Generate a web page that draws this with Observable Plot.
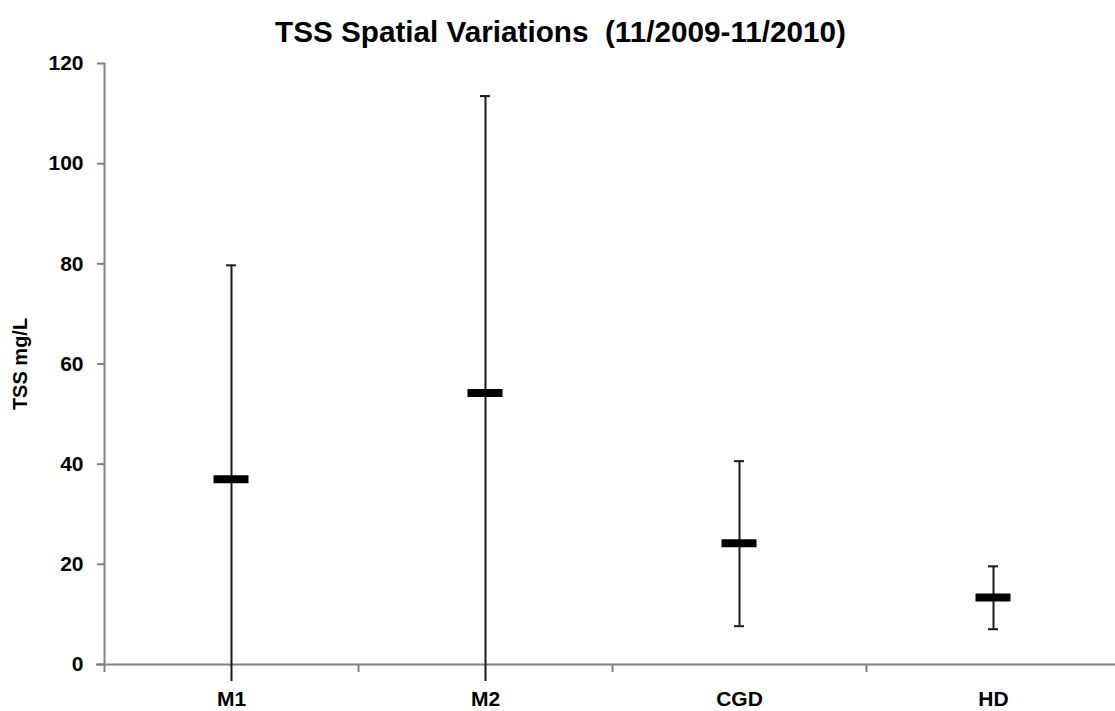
<!DOCTYPE html>
<html>
<head>
<meta charset="utf-8">
<script src="https://cdn.jsdelivr.net/npm/d3@7"></script>
<script src="https://cdn.jsdelivr.net/npm/@observablehq/plot@0.6"></script>
<style>
  html, body { margin: 0; padding: 0; background: #fff; }
  #chart svg { display: block; overflow: hidden; }
</style>
</head>
<body>
<div id="chart"></div>
<script>
// Data
const sites = ["M1", "M2", "CGD", "HD"];
const means = [37.0, 54.2, 24.2, 13.4];
const highs = [79.7, 113.5, 40.6, 19.6];
const lows  = [-3.4, -3.4, 7.65, 7.05];
const yTicks = [0, 20, 40, 60, 80, 100, 120];
const titleText = "TSS Spatial Variations  (11/2009-11/2010)";
const yLabel = "TSS mg/L";

const rows = sites.map((s, i) => ({site: s, mean: means[i], high: highs[i], low: lows[i]}));
const capped = rows.flatMap(d => [
  {site: d.site, v: d.high},
  ...(d.low >= 0 ? [{site: d.site, v: d.low}] : [])
]);

const FONT = "'Liberation Sans', Arial, Helvetica, sans-serif";
const AXIS = "#808080";
const INK = "#1a1a1a";

const chart = Plot.plot({
  width: 1115,
  height: 711,
  marginTop: 63,
  marginBottom: 47,
  marginLeft: 104,
  marginRight: 0,
  style: {fontFamily: FONT, fontSize: "21px", fontWeight: "bold", background: "#fff", color: "#000"},
  x: {type: "band", domain: sites, range: [104, 1120], padding: 0},
  y: {domain: [0, 120]},
  marks: [
    Plot.frame({anchor: "left", stroke: AXIS, strokeWidth: 2}),
    Plot.axisY({ticks: yTicks, tickSize: 7, tickPadding: 14, stroke: AXIS, strokeWidth: 2,
      fill: "#000", fontSize: 21, fontWeight: "bold", label: null}),
    Plot.ruleY([0], {stroke: AXIS, strokeWidth: 2, insetLeft: -8}),
    Plot.axisX({ticks: sites, tickSize: 8, text: null, dx: -127, stroke: AXIS, strokeWidth: 2, label: null}),
    Plot.axisX({ticks: sites, tickSize: 0, tickPadding: 27, fill: "#000",
      fontSize: 21, fontWeight: "bold", label: null}),
    Plot.ruleX(rows, {x: "site", y1: "low", y2: "high", stroke: INK, strokeWidth: 2}),
    Plot.tickY(capped, {x: "site", y: "v", stroke: INK, strokeWidth: 2, insetLeft: 122, insetRight: 122}),
    Plot.tickY(rows, {x: "site", y: "mean", stroke: "#000", strokeWidth: 8, insetLeft: 109.5, insetRight: 109.5}),
    Plot.text([yLabel], {frameAnchor: "left", dx: -84, rotate: -90, fontSize: 20,
      fontWeight: "bold", fill: "#000", textAnchor: "middle", lineAnchor: "middle", text: d => d}),
    Plot.text([titleText], {frameAnchor: "top", dy: -31, dx: -49.5, fontSize: 29.7,
      fontWeight: "bold", fill: "#000", textAnchor: "middle", lineAnchor: "middle", text: d => d})
  ]
});
document.getElementById("chart").appendChild(chart);
</script>
</body>
</html>
